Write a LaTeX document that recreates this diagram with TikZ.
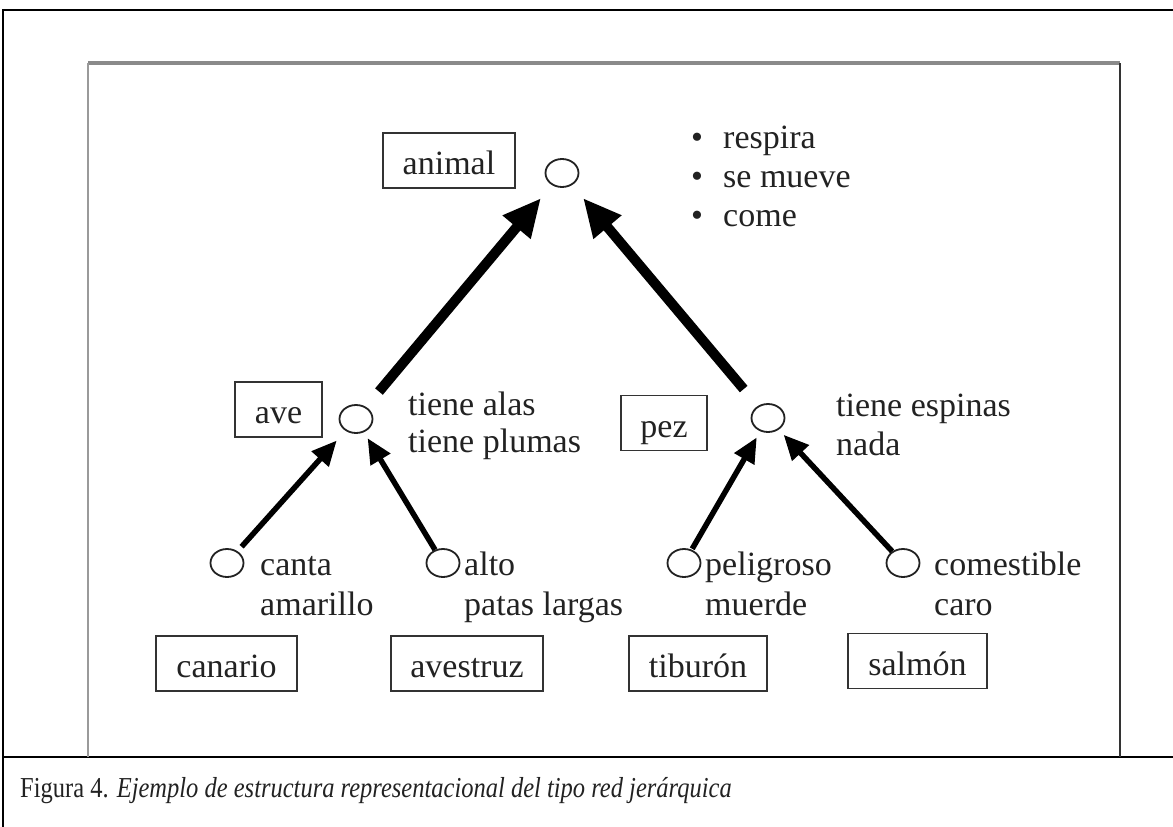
\documentclass[tikz,border=0pt]{standalone}
\usepackage{fontspec}
\setmainfont{Liberation Serif}
\usetikzlibrary{arrows.meta,shapes.geometric}
\definecolor{ink}{HTML}{222222}
\definecolor{boxline}{HTML}{333333}
\definecolor{frametop}{HTML}{8A8A8A}
\definecolor{frameleft}{HTML}{9A9A9A}
\begin{document}
\begin{tikzpicture}[x=1pt,y=-1pt,
  every node/.style={text=ink},
  bigfont/.style={font=\fontsize{34}{38}\selectfont},
  box/.style={draw=boxline, line width=1.8pt, inner sep=0pt, text height=28pt,
    text depth=0pt, minimum height=55pt, bigfont},
  concept/.style={draw=ink, ellipse, line width=1.8pt, inner sep=0pt,
    minimum width=33pt, minimum height=28pt},
  prop/.style={anchor=base west, inner sep=0pt, bigfont},
  bullet/.style={anchor=base, inner sep=0pt, bigfont},
  bigarrow/.style={line width=10pt, draw=black, -{Triangle[length=38pt,width=34pt]}},
  smallarrow/.style={line width=5.5pt, draw=black, -{Triangle[length=25pt,width=22pt]}}
]
\useasboundingbox (0,0) rectangle (1173,827);

% outer frame of the figure table
\draw[line width=2.5pt] (3,827) -- (3,10) -- (1173,10);
\draw[line width=2.5pt] (3,757) -- (1173,757);

% inner picture frame
\draw[frametop, line width=3.5pt] (88,63) -- (1120,63);
\draw[frameleft, line width=2pt] (88,63) -- (88,757);
\draw[boxline, line width=1.5pt] (1120,63) -- (1120,757);

% concept nodes
\node[concept] (animalc) at (562,173) {};
\node[concept] (avec) at (356,419) {};
\node[concept] (pezc) at (768,418) {};
\node[concept] (canarioc) at (227,563) {};
\node[concept] (avestruzc) at (443,563) {};
\node[concept] (tiburonc) at (684,563) {};
\node[concept] (salmonc) at (903,563) {};

% name boxes
\node[box, minimum width=132pt] (animal) at (449,160.5) {animal};
\node[box, minimum width=87pt] (ave) at (278.5,409.5) {ave};
\node[box, minimum width=86pt] (pez) at (664,423) {pez};
\node[box, minimum width=141pt] (canario) at (226.5,663.5) {canario};
\node[box, minimum width=152pt] (avestruz) at (467,663.5) {avestruz};
\node[box, minimum width=138pt] (tiburon) at (698,663.5) {tiburón};
\node[box, minimum width=139pt] (salmon) at (917.5,661) {salmón};

% properties of animal
\node[bullet] (b1) at (697,148) {\textbullet};
\node[bullet] (b2) at (697,187) {\textbullet};
\node[bullet] (b3) at (697,226) {\textbullet};
\node[prop] (p1) at (723,148) {respira};
\node[prop] (p2) at (723,187) {se mueve};
\node[prop] (p3) at (723,226) {come};

% properties of ave and pez
\node[prop] (ave1) at (408,415) {tiene alas};
\node[prop] (ave2) at (408,452) {tiene plumas};
\node[prop] (pez1) at (836,416) {tiene espinas};
\node[prop] (pez2) at (836,455) {nada};

% properties of the species
\node[prop] (can1) at (260,575) {canta};
\node[prop] (can2) at (260,615) {amarillo};
\node[prop] (ves1) at (464,575) {alto};
\node[prop] (ves2) at (464,615) {patas largas};
\node[prop] (tib1) at (705,575) {peligroso};
\node[prop] (tib2) at (705,615) {muerde};
\node[prop] (sal1) at (934,575) {comestible};
\node[prop] (sal2) at (934,615) {caro};

% is-a links
\draw[bigarrow, shorten <=20pt, shorten >=17pt] (avec) -- (animalc);
\draw[bigarrow, shorten <=22pt, shorten >=17pt] (pezc) -- (animalc);
\draw[smallarrow, shorten <=6pt, shorten >=13pt] (canarioc) -- (avec);
\draw[smallarrow, shorten <=0pt, shorten >=7pt] (avestruzc) -- (avec);
\draw[smallarrow, shorten <=1pt, shorten >=7pt] (tiburonc) -- (pezc);
\draw[smallarrow, shorten <=0pt, shorten >=7pt] (salmonc) -- (pezc);

% caption
\node[anchor=base west, inner sep=0pt, font=\fontsize{24.5}{28}\selectfont] (cap) at (20,797)
  {\scalebox{1}[1.18]{Figura 4. \textit{Ejemplo de estructura representacional del tipo red jerárquica}}};
\end{tikzpicture}
\end{document}
